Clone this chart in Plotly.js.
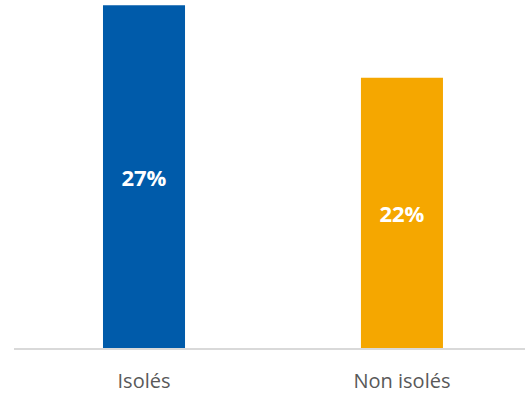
<!DOCTYPE html>
<html>
<head>
<meta charset="utf-8">
<script src="https://cdn.plot.ly/plotly-3.0.1.min.js"></script>
<style>html,body{margin:0;padding:0;background:#fff;}#chart{width:525px;height:394px;}</style>
</head>
<body>
<div id="chart"></div>
<script>
const categories = ["Isolés", "Non isolés"];
const values = [0.274, 0.216];
const labels = ["27%", "22%"];
const colors = ["#005BAA", "#F5A700"];

const trace = {
  type: "bar",
  x: categories,
  y: values,
  text: labels,
  textposition: "inside",
  insidetextanchor: "middle",
  textfont: {family: "'Open Sans', sans-serif", size: 22, color: "#FFFFFF", weight: "bold"},
  marker: {color: colors},
  hoverinfo: "none",
  cliponaxis: false
};

const layout = {
  width: 525, height: 394,
  margin: {l: 14, r: 0, t: 4, b: 46},
  paper_bgcolor: "#FFFFFF",
  plot_bgcolor: "#FFFFFF",
  bargap: 0.682,
  showlegend: false,
  xaxis: {
    range: [-0.504, 1.477],
    showline: true, linecolor: "#D9D9D9", linewidth: 2,
    ticks: "", showgrid: false, zeroline: false,
    ticklabelstandoff: 14,
    tickfont: {family: "'Open Sans', sans-serif", size: 20, color: "#595959"}
  },
  yaxis: {
    range: [0, 0.275], visible: false, showgrid: false, zeroline: false
  }
};

Plotly.newPlot("chart", [trace], layout, {displayModeBar: false, staticPlot: true});
</script>
</body>
</html>
